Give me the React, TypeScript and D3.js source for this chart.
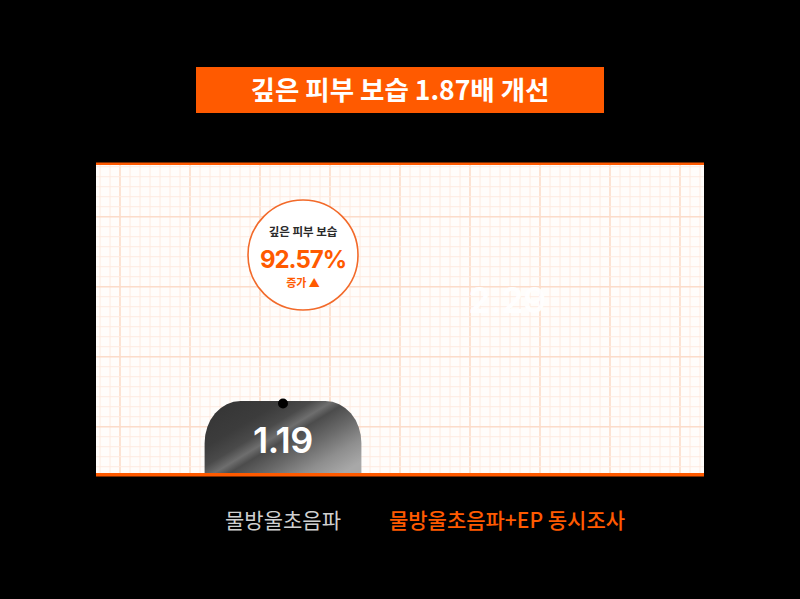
import * as d3 from "d3";
import { useEffect, useRef } from "react";

const categories = ["물방울초음파", "물방울초음파+EP 동시조사"];
const values = [1.19, 2.29];
const valueLabels = ["1.19", "2.29"];
const title = "깊은 피부 보습 1.87배 개선";
const badgeLines = ["깊은 피부 보습", "92.57%", "증가 ▲"];

const W = 800;
const H = 599;
const FONT = "'Noto Sans CJK KR', 'Noto Sans', sans-serif";
const NUM_FONT = "Inter, Roboto, 'Noto Sans', sans-serif";
const ORANGE = "#ff5a00";

function App() {
    const svgRef = useRef(null);

    useEffect(() => {
        const svg = d3.select(svgRef.current);
        svg.selectAll("*").remove();

        const panel = { left: 96, right: 704, top: 164, bottom: 475 };

        const x = d3.scaleBand(categories, [171, 619]).padding(0);
        const y = d3.scaleLinear([0, 5], [panel.bottom, panel.top]);
        const barW = x.bandwidth() * 0.7;

        svg.append("rect").attr("width", W).attr("height", H).attr("fill", "#000");

        // gradient for the bar
        const defs = svg.append("defs");
        const grad = defs.append("linearGradient")
            .attr("id", "barGrad")
            .attr("x1", 0).attr("y1", 0).attr("x2", 1).attr("y2", 0.8);
        [
            [0, "#333"], [0.3, "#3c3c3c"], [0.42, "#4a4a4a"], [0.5, "#6e6e6e"],
            [0.56, "#4c4c4c"], [0.7, "#6a6a6a"], [0.85, "#8e8e8e"], [1, "#a8a8a8"]
        ].forEach(([o, c]) => grad.append("stop").attr("offset", o).attr("stop-color", c));
        defs.append("clipPath").attr("id", "panelClip")
            .append("rect")
            .attr("x", panel.left).attr("y", panel.top)
            .attr("width", panel.right - panel.left).attr("height", panel.bottom - panel.top);

        // graph paper panel
        svg.append("rect")
            .attr("x", panel.left).attr("y", panel.top)
            .attr("width", panel.right - panel.left).attr("height", panel.bottom - panel.top)
            .attr("fill", "#fffdfb");

        const grid = svg.append("g").attr("clip-path", "url(#panelClip)");
        const minorX = d3.range(100, panel.right, 10);
        const minorY = d3.range(166.7, panel.bottom, 10);
        const isMajorX = (i) => (i - 2) % 7 === 0;
        const isMajorY = (i) => (i - 5) % 7 === 0;
        grid.selectAll(".vx").data(minorX).enter().append("line")
            .attr("x1", d => d).attr("x2", d => d)
            .attr("y1", panel.top).attr("y2", panel.bottom)
            .attr("stroke", (d, i) => (isMajorX(i) ? "#fcdcca" : "#feebe0"))
            .attr("stroke-width", (d, i) => (isMajorX(i) ? 1.6 : 1));
        grid.selectAll(".hy").data(minorY).enter().append("line")
            .attr("y1", d => d).attr("y2", d => d)
            .attr("x1", panel.left).attr("x2", panel.right)
            .attr("stroke", (d, i) => (isMajorY(i) ? "#fcdcca" : "#feebe0"))
            .attr("stroke-width", (d, i) => (isMajorY(i) ? 1.6 : 1));

        svg.append("rect")
            .attr("x", panel.left).attr("y", panel.top - 1.5)
            .attr("width", panel.right - panel.left).attr("height", 2.5)
            .attr("fill", ORANGE);

        // bars (second one is still animating in, only its label shows)
        const bars = svg.append("g").attr("clip-path", "url(#panelClip)");
        const rx = 36;
        const ry = 42;
        const b0 = categories[0];
        const bx = x(b0) + (x.bandwidth() - barW) / 2;
        const by = y(values[0]);
        bars.append("path")
            .attr("d", `M${bx},${panel.bottom + 2} V${by + ry} A${rx},${ry} 0 0 1 ${bx + rx},${by} H${bx + barW - rx} A${rx},${ry} 0 0 1 ${bx + barW},${by + ry} V${panel.bottom + 2} Z`)
            .attr("fill", "url(#barGrad)");
        svg.append("circle")
            .attr("cx", x(b0) + x.bandwidth() / 2).attr("cy", by + 2.5)
            .attr("r", 5).attr("fill", "#000");

        svg.append("text")
            .attr("x", x(categories[0]) + x.bandwidth() / 2)
            .attr("y", y(values[0]) + 52)
            .attr("text-anchor", "middle")
            .attr("font-family", NUM_FONT).attr("font-weight", 600).attr("font-size", 36)
            .attr("letter-spacing", -0.5)
            .attr("fill", "#fff")
            .text(valueLabels[0]);
        svg.append("text")
            .attr("x", x(categories[1]) + x.bandwidth() / 2)
            .attr("y", y(values[1]) - 20)
            .attr("text-anchor", "middle")
            .attr("font-family", NUM_FONT).attr("font-weight", 600).attr("font-size", 36)
            .attr("letter-spacing", -0.5)
            .attr("fill", "#fff").attr("opacity", 0.92)
            .text(valueLabels[1]);

        svg.append("rect")
            .attr("x", panel.left).attr("y", panel.bottom - 2)
            .attr("width", panel.right - panel.left).attr("height", 3.5)
            .attr("fill", ORANGE);

        // badge
        const badge = svg.append("g").attr("transform", "translate(303,255)");
        badge.append("circle").attr("r", 55)
            .attr("fill", "#fff").attr("stroke", "#f26a2a").attr("stroke-width", 1.6);
        badge.append("text").attr("y", -19).attr("text-anchor", "middle")
            .attr("font-family", FONT).attr("font-weight", 700).attr("font-size", 11.5)
            .attr("fill", "#2a2a2a").text(badgeLines[0]);
        badge.append("text").attr("y", 13).attr("text-anchor", "middle")
            .attr("font-family", NUM_FONT).attr("font-weight", 700).attr("font-size", 24)
            .attr("letter-spacing", -1)
            .attr("fill", ORANGE).text(badgeLines[1]);
        badge.append("text").attr("y", 32).attr("text-anchor", "middle")
            .attr("font-family", FONT).attr("font-weight", 700).attr("font-size", 11)
            .attr("fill", ORANGE).text(badgeLines[2]);

        // title
        svg.append("rect")
            .attr("x", 196).attr("y", 67).attr("width", 408).attr("height", 46)
            .attr("fill", ORANGE);
        svg.append("text")
            .attr("x", W / 2).attr("y", 100)
            .attr("text-anchor", "middle")
            .attr("font-family", FONT).attr("font-weight", 700).attr("font-size", 26.5)
            .attr("fill", "#fff")
            .text(title);

        // category labels
        svg.selectAll(".cat").data(categories).enter().append("text")
            .attr("x", d => x(d) + x.bandwidth() / 2)
            .attr("y", 528)
            .attr("text-anchor", "middle")
            .attr("font-family", FONT)
            .attr("font-weight", (d, i) => (i === 0 ? 400 : 500))
            .attr("font-size", 21)
            .attr("fill", (d, i) => (i === 0 ? "#d0d0d0" : ORANGE))
            .text(d => d);
    }, []);

    return (
        <svg ref={svgRef} width={W} height={H}
            style={{ position: "fixed", top: 0, left: 0, display: "block" }} />
    );
}

export default App;
